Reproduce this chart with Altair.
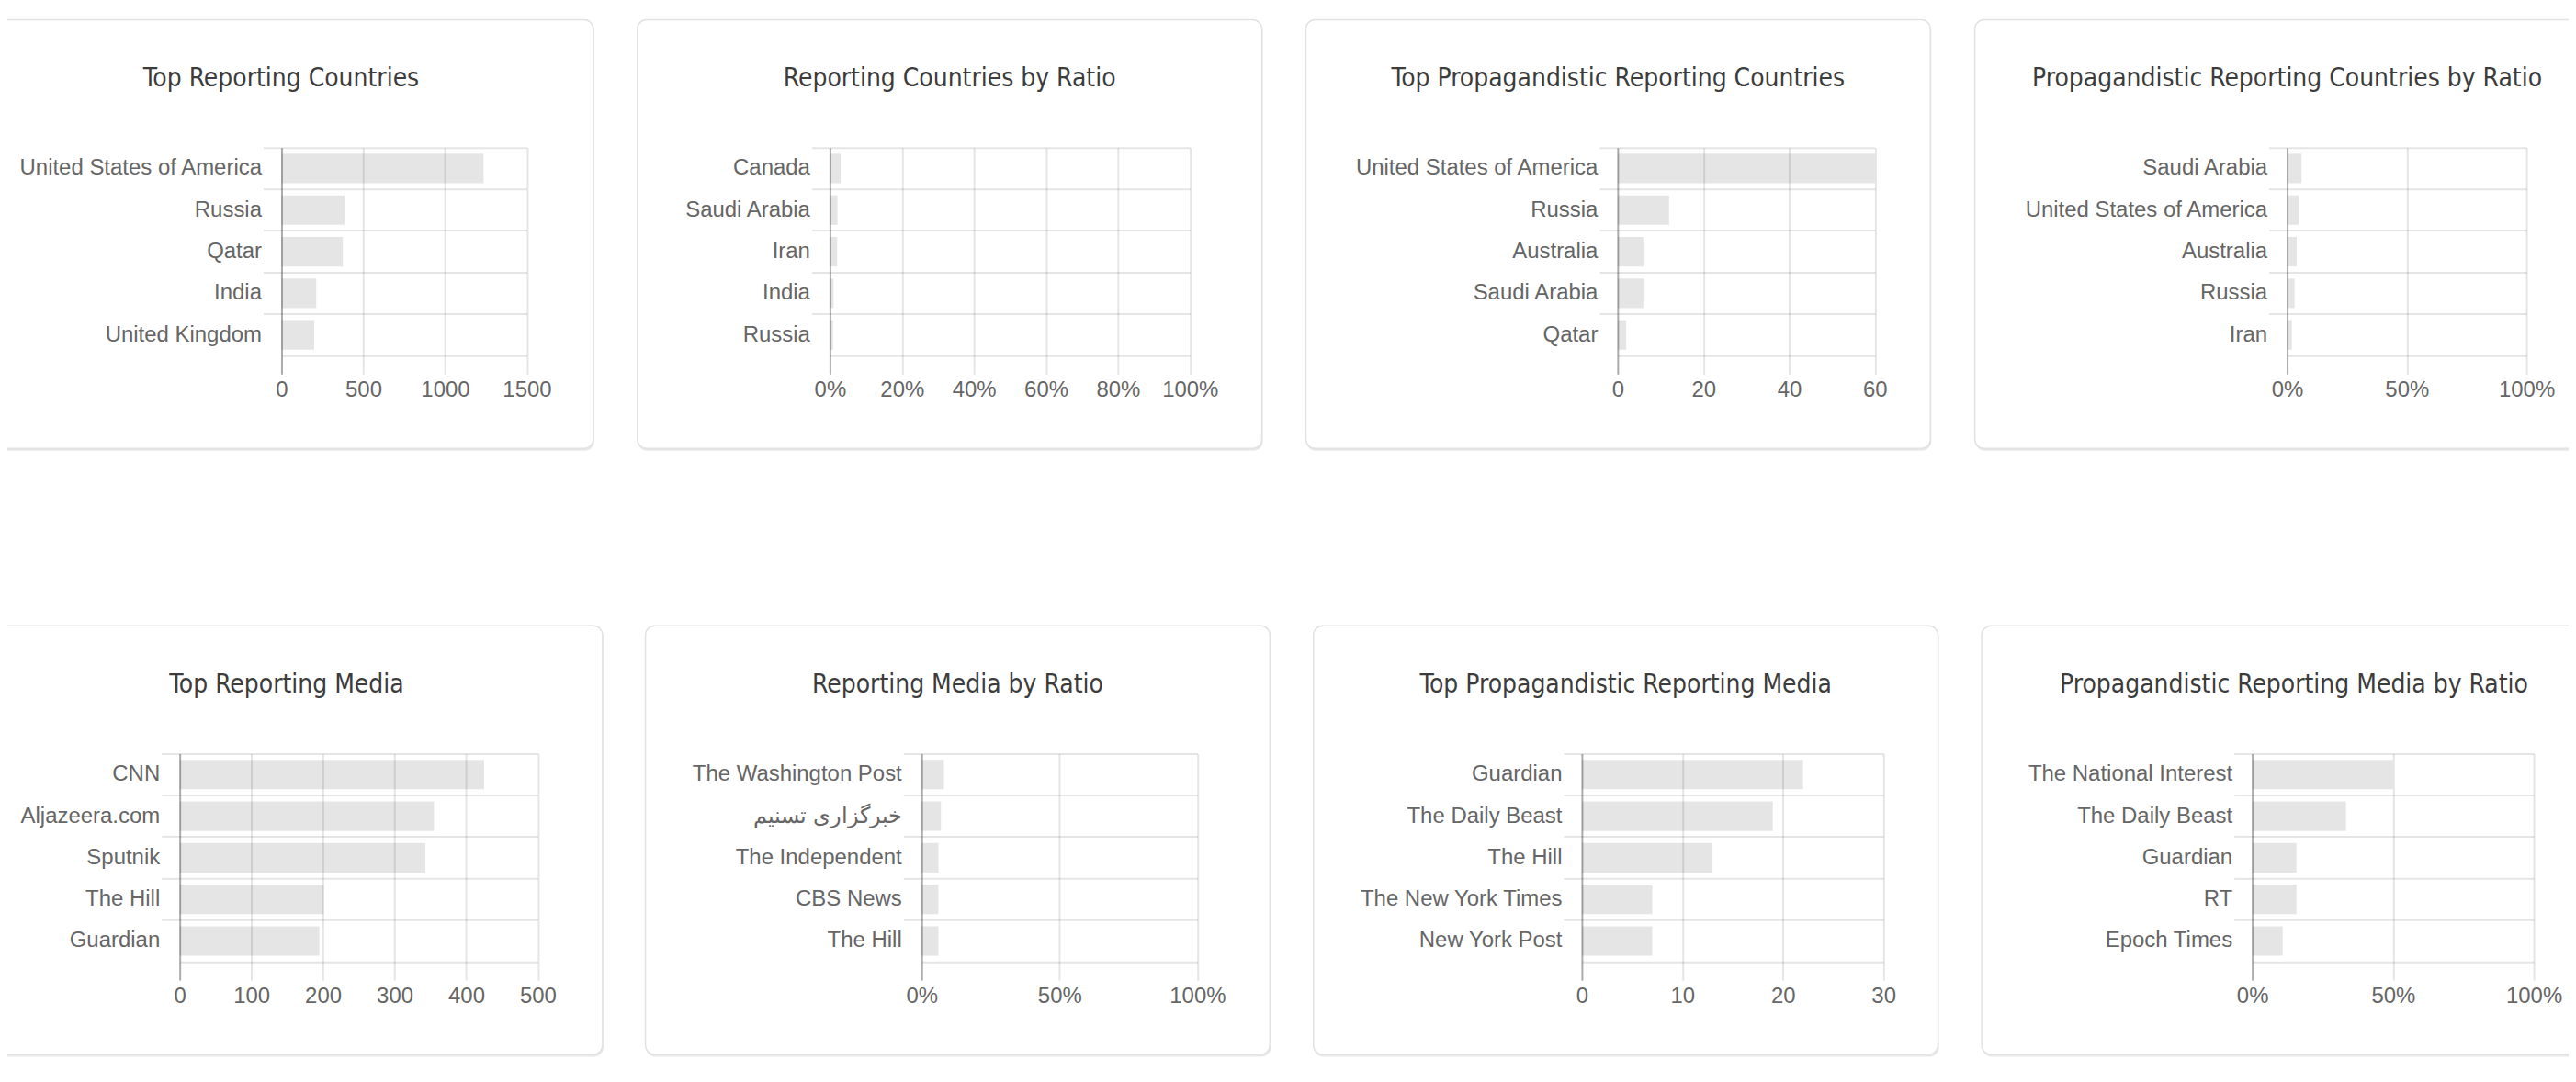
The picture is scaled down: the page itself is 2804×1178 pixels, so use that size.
import altair as alt
import pandas as pd

# ---------------- data ----------------
TITLE_1 = "Top Reporting Countries"
CATS_1 = ["United States of America", "Russia", "Qatar", "India", "United Kingdom"]
VALS_1 = [1235, 385, 375, 212, 200]
TICKS_1 = [0, 500, 1000, 1500]

TITLE_2 = "Reporting Countries by Ratio"
CATS_2 = ["Canada", "Saudi Arabia", "Iran", "India", "Russia"]
VALS_2 = [0.030, 0.021, 0.020, 0.010, 0.009]
TICKS_2 = [0, 0.2, 0.4, 0.6, 0.8, 1.0]

TITLE_3 = "Top Propagandistic Reporting Countries"
CATS_3 = ["United States of America", "Russia", "Australia", "Saudi Arabia", "Qatar"]
VALS_3 = [60, 12, 6, 6, 2]
TICKS_3 = [0, 20, 40, 60]

TITLE_4 = "Propagandistic Reporting Countries by Ratio"
CATS_4 = ["Saudi Arabia", "United States of America", "Australia", "Russia", "Iran"]
VALS_4 = [0.060, 0.049, 0.040, 0.031, 0.020]
TICKS_4 = [0, 0.5, 1.0]

TITLE_5 = "Top Reporting Media"
CATS_5 = ["CNN", "Aljazeera.com", "Sputnik", "The Hill", "Guardian"]
VALS_5 = [425, 355, 343, 201, 195]
TICKS_5 = [0, 100, 200, 300, 400, 500]

TITLE_6 = "Reporting Media by Ratio"
CATS_6 = ["The Washington Post", "خبرگزاری تسنیم", "The Independent", "CBS News", "The Hill"]
VALS_6 = [0.081, 0.070, 0.061, 0.061, 0.061]
TICKS_6 = [0, 0.5, 1.0]

TITLE_7 = "Top Propagandistic Reporting Media"
CATS_7 = ["Guardian", "The Daily Beast", "The Hill", "The New York Times", "New York Post"]
VALS_7 = [22, 19, 13, 7, 7]
TICKS_7 = [0, 10, 20, 30]

TITLE_8 = "Propagandistic Reporting Media by Ratio"
CATS_8 = ["The National Interest", "The Daily Beast", "Guardian", "RT", "Epoch Times"]
VALS_8 = [0.500, 0.333, 0.157, 0.157, 0.108]
TICKS_8 = [0, 0.5, 1.0]

# ---------------- style ----------------
LABEL_FONT = "Liberation Sans, Helvetica, Arial, sans-serif"
TITLE_FONT = "DejaVu Sans Condensed, Liberation Sans Narrow, Liberation Sans, sans-serif"
H = 227
CARD_TOP = -139.5
CARD_BOT = H + 101


def zero_cond(v0, v):
    return {"condition": {"test": "datum.value === 0", "value": v0}, "value": v}


def panel(title, cats, vals, ticks, pct, W, a, card_w, title_cx):
    df = pd.DataFrame({"cat": cats, "val": vals})
    one = pd.DataFrame({"t": [title]})
    shadow = alt.Chart(one).mark_rect(fill="#000000", opacity=0.09, cornerRadius=10).encode(
        x=alt.value(-a + 0.5), x2=alt.value(card_w - a + 1),
        y=alt.value(CARD_TOP + 2), y2=alt.value(CARD_BOT + 2.5))
    card = alt.Chart(one).mark_rect(fill="#ffffff", stroke="#e2e2e2", strokeWidth=1.5,
                                    cornerRadius=10).encode(
        x=alt.value(-a), x2=alt.value(card_w - a),
        y=alt.value(CARD_TOP), y2=alt.value(CARD_BOT))
    ttl = alt.Chart(one).mark_text(font=TITLE_FONT, fontSize=28, color="#3c3c3c",
                                   align="center", baseline="alphabetic").encode(
        x=alt.value(title_cx), y=alt.value(-66.5), text="t:N")
    bars = alt.Chart(df).mark_bar(color="#000000", opacity=0.1, height={"band": 0.71}).encode(
        y=alt.Y("cat:N", sort=cats, title=None,
                scale=alt.Scale(paddingInner=0, paddingOuter=0),
                axis=alt.Axis(domain=False, grid=True, gridColor="#000000", gridOpacity=0.1,
                              gridWidth=2, ticks=True, tickSize=20, tickColor="#000000",
                              tickOpacity=0.1, tickWidth=2, bandPosition=0,
                              labelFont=LABEL_FONT, labelFontSize=24, labelColor="#666666",
                              labelPadding=2, labelLimit=1000, zindex=1)),
        x=alt.X("val:Q", title=None,
                scale=alt.Scale(domain=[0, ticks[-1]], nice=False, zero=True),
                axis=alt.Axis(values=ticks, format=".0%" if pct else "d",
                              grid=True, gridColor="#000000", gridOpacity=zero_cond(0.33, 0.1),
                              gridWidth=2, ticks=True, tickSize=20, tickColor="#000000",
                              tickOpacity=zero_cond(0.33, 0.1), tickWidth=2,
                              domain=True, domainColor="#000000", domainOpacity=0.1,
                              domainWidth=2, labelFont=LABEL_FONT, labelFontSize=24,
                              labelColor="#666666", labelPadding=5, labelFlush=False,
                              labelOverlap=False, zindex=1)),
    )
    return alt.layer(shadow, card, ttl, bars).properties(width=W, height=H)


def anchor():
    # invisible 1px anchor cell so both rows start from the same reference point
    one = pd.DataFrame({"t": [""]})
    return alt.Chart(one).mark_rect(opacity=0).encode(
        x=alt.value(0), x2=alt.value(1), y=alt.value(0), y2=alt.value(1)
    ).properties(width=1, height=1)


p1 = panel(TITLE_1, CATS_1, VALS_1, TICKS_1, False, 267.5, 341, 681, -0.5)
p2 = panel(TITLE_2, CATS_2, VALS_2, TICKS_2, True, 392.6, 210, 681, 130.5)
p3 = panel(TITLE_3, CATS_3, VALS_3, TICKS_3, False, 280.5, 340, 681, 0.5)
p4 = panel(TITLE_4, CATS_4, VALS_4, TICKS_4, True, 261, 340.5, 681, 0)
p5 = panel(TITLE_5, CATS_5, VALS_5, TICKS_5, False, 390.5, 231, 692, 116.5)
p6 = panel(TITLE_6, CATS_6, VALS_6, TICKS_6, True, 300.7, 301.2, 681, 39.3)
p7 = panel(TITLE_7, CATS_7, VALS_7, TICKS_7, False, 328.8, 292.7, 681, 47.8)
p8 = panel(TITLE_8, CATS_8, VALS_8, TICKS_8, True, 307, 295, 681, 45.5)

row1 = alt.hconcat(anchor(), p1, p2, p3, p4, spacing=46)
row2 = alt.hconcat(anchor(), p5, p6, p7, p8, spacing=45)

chart = alt.vconcat(row1, row2, spacing=189).properties(
    padding={"left": -90, "top": 11, "right": -42, "bottom": 2},
    background="#ffffff",
).configure_view(strokeWidth=0)

chart.save("out.html", embed_options={"renderer": "svg", "actions": False})
